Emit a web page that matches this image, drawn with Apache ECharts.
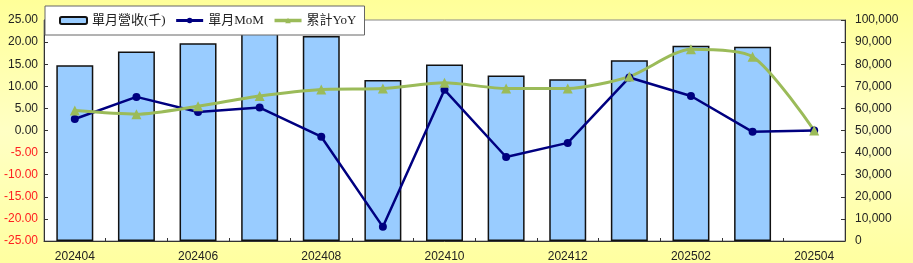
<!DOCTYPE html>
<html>
<head>
<meta charset="utf-8">
<script src="https://cdn.jsdelivr.net/npm/echarts@6/dist/echarts.min.js"></script>
<style>
html,body{margin:0;padding:0;}
#c{width:913px;height:263px;background:linear-gradient(to bottom,#FFFF99 0%,#FFFFC4 50%,#FFFFA0 100%);}
</style>
</head>
<body>
<div id="c"></div>
<script>
var categories = ['202404','202405','202406','202407','202408','202409','202410','202411','202412','202501','202502','202503','202504'];
var revenue = [79500, 85700, 89500, 94200, 92800, 72900, 79900, 74900, 73200, 81800, 88400, 87900, null];
var mom = [2.6, 7.6, 4.2, 5.2, -1.4, -21.8, 9.2, -6.0, -2.8, 12.0, 7.8, -0.3, 0.0];
var yoy = [4.5, 3.7, 5.5, 7.8, 9.3, 9.5, 10.8, 9.5, 9.5, 12.2, 18.4, 16.7, 0.0];
var seriesNames = ['單月營收(千)', '單月MoM', '累計YoY'];

var chart = echarts.init(document.getElementById('c'), null, {renderer:'canvas'});
var axisFont = {fontFamily:'Liberation Sans, Arial, sans-serif', fontSize:12, color:'#222'};
chart.setOption({
  backgroundColor:'transparent',
  animation:false,
  grid:{left:44,right:68,top:20,bottom:22,show:true,backgroundColor:'#fff',borderColor:'#888',borderWidth:1},
  legend:{
    left:45, top:6, padding:[8,8,8,14], z:10,
    backgroundColor:'#fff', borderColor:'#666', borderWidth:1,
    itemWidth:27, itemHeight:7, itemGap:9,
    lineStyle:{width:3},
    textStyle:{fontFamily:'Liberation Serif, "Noto Sans CJK TC", serif', fontSize:13, color:'#222'},
    data:[
      {name:seriesNames[0]},
      {name:seriesNames[1], lineStyle:{width:3, color:'#000080'}},
      {name:seriesNames[2], lineStyle:{width:3.5, color:'#9BBB59'}}
    ]
  },
  xAxis:{
    type:'category', data:categories, boundaryGap:true,
    axisLine:{onZero:false, lineStyle:{color:'#333',width:1}},
    axisTick:{show:true, inside:true, length:3, interval:0, lineStyle:{color:'#333'}},
    axisLabel:Object.assign({interval:1, margin:10}, axisFont)
  },
  yAxis:[
    {type:'value', min:-25, max:25, interval:5, position:'left',
     axisLine:{show:true,lineStyle:{color:'#333'}},
     axisTick:{show:true,inside:true,length:4,lineStyle:{color:'#333'}},
     splitLine:{show:false},
     axisLabel:Object.assign({}, axisFont, {margin:6,
       formatter:function(v){ return v<0 ? '{r|'+v.toFixed(2)+'}' : v.toFixed(2); },
       rich:{r:{color:'#FF2020', fontFamily:'Liberation Sans, Arial, sans-serif', fontSize:12}}})
    },
    {type:'value', min:0, max:100000, interval:10000, position:'right',
     axisLine:{show:true,lineStyle:{color:'#333'}},
     axisTick:{show:true,inside:true,length:4,lineStyle:{color:'#333'}},
     splitLine:{show:false},
     axisLabel:Object.assign({}, axisFont, {margin:10,
       formatter:function(v){ return v.toLocaleString('en-US'); }})
    }
  ],
  series:[
    {name:seriesNames[0], type:'bar', yAxisIndex:1, data:revenue, barWidth:'60%',
     itemStyle:{color:'#99CCFF', borderColor:'#111', borderWidth:1.5}},
    {name:seriesNames[1], type:'line', yAxisIndex:0, data:mom, symbol:'circle', symbolSize:8,
     lineStyle:{color:'#000080',width:2.5}, itemStyle:{color:'#000080'}},
    {name:seriesNames[2], type:'line', yAxisIndex:0, data:yoy, symbol:'triangle', symbolSize:10, smooth:0.25,
     lineStyle:{color:'#9BBB59',width:3}, itemStyle:{color:'#9BBB59'}}
  ]
});
</script>
</body>
</html>
